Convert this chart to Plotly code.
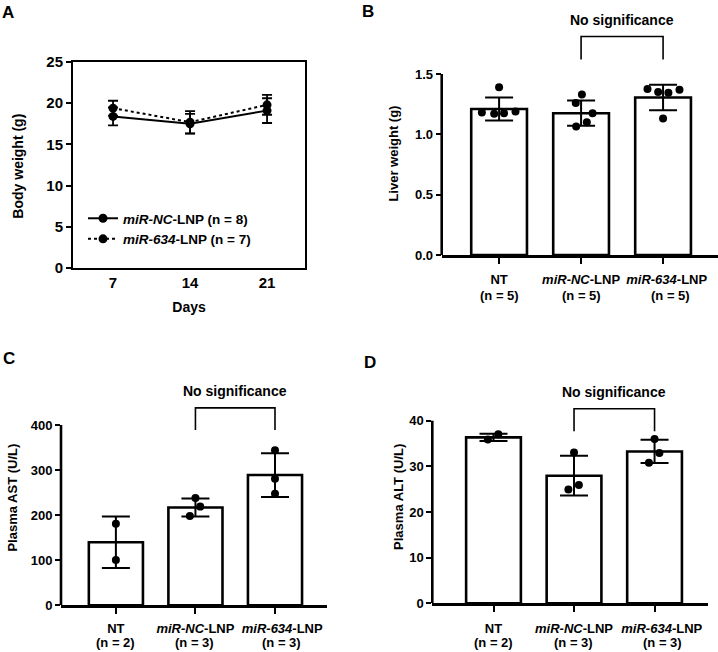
import plotly.graph_objects as go

W, H = 718, 652
FONT = "Liberation Sans, Arial, sans-serif"

# ---------------- Data ----------------
# Panel A: body weight over time
days = [7, 14, 21]
nc_weight = [18.4, 17.5, 19.1]
nc_weight_sd = [1.1, 1.2, 1.5]
m634_weight = [19.4, 17.7, 19.8]
m634_weight_sd = [0.9, 1.35, 1.2]
series_a_names = ["<i>miR-NC</i>-LNP (n = 8)", "<i>miR-634</i>-LNP (n = 7)"]

# Groups (bar panels)
groups = ["NT", "<i>miR-NC</i>-LNP", "<i>miR-634</i>-LNP"]

# Panel B: liver weight (g)
liver_n = [5, 5, 5]
liver_mean = [1.21, 1.175, 1.305]
liver_sd = [0.095, 0.105, 0.105]
liver_points = [[1.39, 1.18, 1.17, 1.175, 1.19],
                [1.33, 1.26, 1.175, 1.10, 1.065],
                [1.375, 1.35, 1.345, 1.37, 1.13]]
liver_jitter = [[0, -0.21, -0.06, 0.06, 0.2],
                [0.01, -0.065, 0.14, 0.07, -0.06],
                [-0.19, -0.06, 0.065, 0.2, 0]]

# Panel C: plasma AST (U/L)
ast_n = [2, 3, 3]
ast_mean = [140, 217, 289]
ast_sd = [57, 20, 48.5]
ast_points = [[181, 100.5], [238, 219, 198], [344, 281, 247.5]]
ast_jitter = [[0, 0], [0, 0.06, -0.07], [0, 0, 0]]

# Panel D: plasma ALT (U/L)
alt_n = [2, 3, 3]
alt_mean = [36.35, 27.95, 33.25]
alt_sd = [0.8, 4.35, 2.55]
alt_points = [[35.9, 37.0], [33.0, 25.9, 24.9], [36.0, 32.9, 30.8]]
alt_jitter = [[-0.07, 0.06], [0, 0.06, -0.07], [0, 0.06, -0.07]]

sig_text = "No significance"

# ---------------- Helpers ----------------
def xdom(p0, p1):
    return [p0 / W, p1 / W]

def ydom(top, bottom):
    return [1 - bottom / H, 1 - top / H]

fig = go.Figure()

# ---------------- Panel A ----------------
fig.add_trace(go.Scatter(
    x=days, y=nc_weight, name=series_a_names[0], mode="lines+markers",
    line=dict(color="black", width=2), marker=dict(color="black", size=9),
    error_y=dict(type="data", array=nc_weight_sd, color="black", thickness=1.8, width=5),
    xaxis="x", yaxis="y"))
fig.add_trace(go.Scatter(
    x=days, y=m634_weight, name=series_a_names[1], mode="lines+markers",
    line=dict(color="black", width=2, dash="dot"), marker=dict(color="black", size=9),
    error_y=dict(type="data", array=m634_weight_sd, color="black", thickness=1.8, width=5),
    xaxis="x", yaxis="y"))

# ---------------- Bar panels ----------------
panels = [
    dict(ax="2", n=liver_n, mean=liver_mean, sd=liver_sd, pts=liver_points, jit=liver_jitter,
         xd=xdom(441.7, 718), yd=ydom(10, 255), xr=[-0.70, 2.67], yr=[0, 2.03],
         ticks=[0, 0.5, 1.0, 1.5], fmt=".1f", ymaxline=1.5,
         br=(1.62, 1.81, 1.95), title="Liver weight (g)", tx=394, ty=0.84, tfs=13,
         standoff=5, npx=295.5, pad=[0, 0, 2], nshift=[0, 0, 7]),
    dict(ax="3", n=ast_n, mean=ast_mean, sd=ast_sd, pts=ast_points, jit=ast_jitter,
         xd=xdom(61, 326.7), yd=ydom(375, 605.3), xr=[-0.69, 2.65], yr=[0, 510.9],
         ticks=[0, 100, 200, 300, 400], fmt="d", ymaxline=400,
         br=(389, 438, 475), title="Plasma AST (U/L)", tx=13, ty=239, tfs=13,
         standoff=3, npx=642.5, pad=[0, 0, 4], nshift=[0, -1, 7]),
    dict(ax="4", n=alt_n, mean=alt_mean, sd=alt_sd, pts=alt_points, jit=alt_jitter,
         xd=xdom(432.3, 707.7), yd=ydom(375, 603.3), xr=[-0.76, 2.66], yr=[0, 50.0],
         ticks=[0, 10, 20, 30, 40], fmt="d", ymaxline=40,
         br=(37.7, 42.6, 46.2), title="Plasma ALT (U/L)", tx=399, ty=23.3, tfs=13,
         standoff=5, npx=642.5, pad=[0, 0, 4], nshift=[0, -1, 8]),
]

shapes = []
annotations = []
for p in panels:
    xa, ya = "x" + p["ax"], "y" + p["ax"]
    idx = list(range(len(groups)))
    fig.add_trace(go.Bar(
        x=idx, y=p["mean"], width=0.68, showlegend=False,
        marker=dict(color="white", line=dict(color="black", width=2.6)),
        error_y=dict(type="data", array=p["sd"], color="black", thickness=2, width=14),
        xaxis=xa, yaxis=ya))
    px, py = [], []
    for i, (vals, offs) in enumerate(zip(p["pts"], p["jit"])):
        for v, o in zip(vals, offs):
            px.append(i + o)
            py.append(v)
    fig.add_trace(go.Scatter(
        x=px, y=py, mode="markers", showlegend=False,
        marker=dict(color="black", size=8), xaxis=xa, yaxis=ya))
    leg, top, txt = p["br"]
    fig.add_trace(go.Scatter(
        x=[1, 1, 2, 2], y=[leg, top, top, leg], mode="lines", showlegend=False,
        line=dict(color="black", width=1.6), xaxis=xa, yaxis=ya))
    annotations.append(dict(text=sig_text, x=1.5, y=txt, xref=xa, yref=ya,
                            showarrow=False, font=dict(size=14), yanchor="middle"))
    shapes.append(dict(type="line", xref=xa + " domain", yref=ya, x0=0, x1=0,
                       y0=0, y1=p["ymaxline"], line=dict(color="black", width=2.6)))
    annotations.append(dict(text=p["title"], x=p["tx"] / W, y=p["ty"], xref="paper", yref=ya,
                            textangle=-90, showarrow=False, font=dict(size=p["tfs"]),
                            xanchor="center", yanchor="middle"))
    # second line of category labels: group sizes
    for i, n in enumerate(p["n"]):
        annotations.append(dict(text=f"(n = {n})", x=i, xref=xa, y=1 - p["npx"] / H,
                                yref="paper", showarrow=False, xanchor="center",
                                yanchor="middle", xshift=p["nshift"][i],
                                font=dict(size=p["tfs"])))
    ticktext = ["&nbsp;" * k + g for k, g in zip(p["pad"], groups)]
    fig.update_layout(**{
        "xaxis" + p["ax"]: dict(domain=p["xd"], range=p["xr"], anchor=ya,
                                tickvals=idx, ticktext=ticktext, showline=True,
                                linecolor="black", linewidth=2.6, ticks="outside",
                                ticklen=6, tickwidth=2, tickcolor="black",
                                showgrid=False, zeroline=False, fixedrange=True,
                                ticklabelstandoff=p["standoff"], tickangle=0,
                                automargin=False, tickfont=dict(size=p["tfs"])),
        "yaxis" + p["ax"]: dict(domain=p["yd"], range=p["yr"], anchor=xa,
                                tickvals=p["ticks"], tickformat=p["fmt"], showline=False,
                                ticks="outside", ticklen=5, tickwidth=2, tickcolor="black",
                                showgrid=False, zeroline=False, fixedrange=True,
                                automargin=False, tickfont=dict(size=p["tfs"])),
    })

# Panel A y title
annotations.append(dict(text="Body weight (g)", x=18 / W, y=12.3, xref="paper", yref="y",
                        textangle=-90, showarrow=False, font=dict(size=14),
                        xanchor="center", yanchor="middle"))

# Panel letters
for letter, lx, ly in [("A", 0, 1), ("B", 360, 0), ("C", 1, 347), ("D", 362, 351)]:
    annotations.append(dict(text=letter, x=lx / W, y=1 - ly / H, xref="paper", yref="paper",
                            showarrow=False, xanchor="left", yanchor="top",
                            font=dict(size=17)))

fig.update_layout(
    width=W, height=H, autosize=False,
    margin=dict(l=0, r=0, t=0, b=0, pad=0, autoexpand=False),
    paper_bgcolor="white", plot_bgcolor="white",
    font=dict(family=FONT, color="black", size=13, weight="bold"),
    xaxis=dict(domain=xdom(73, 305), range=[3.36, 24.45], anchor="y",
               tickvals=days, showline=True, mirror=True, linecolor="black",
               linewidth=2, ticks="", showgrid=False, zeroline=False,
               tickfont=dict(size=15), ticklabelstandoff=0, automargin=False,
               title=dict(text="Days", font=dict(size=14), standoff=12)),
    yaxis=dict(domain=ydom(62, 268), range=[0, 25], anchor="x",
               tickvals=[0, 5, 10, 15, 20, 25], showline=True, mirror=True,
               linecolor="black", linewidth=2, ticks="outside", ticklen=5,
               tickwidth=2, tickcolor="black", showgrid=False, zeroline=False,
               automargin=False, tickfont=dict(size=15)),
    legend=dict(x=83 / W, y=1 - 203 / H, xanchor="left", yanchor="top",
                bgcolor="rgba(0,0,0,0)", font=dict(size=13.5), tracegroupgap=0,
                itemwidth=30),
    shapes=shapes,
    annotations=annotations,
)

fig.write_html("out.html", config={"displayModeBar": False},
               post_script="document.body.style.margin='0';document.body.style.padding='0';")
